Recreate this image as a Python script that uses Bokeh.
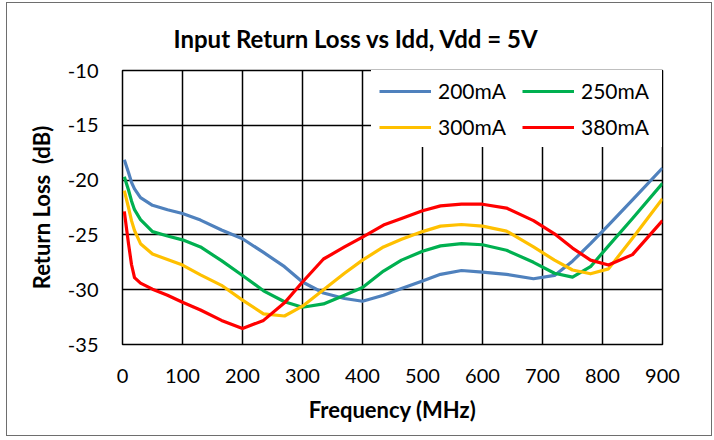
from bokeh.plotting import figure
from bokeh.models import Range1d, FixedTicker, Legend, LegendItem, Title
from bokeh.embed import file_html
from bokeh.resources import INLINE

freq = [3, 10, 15, 20, 30, 50, 75, 100, 130, 165, 200, 235, 270, 300, 335, 370, 400,
        435, 465, 500, 530, 565, 600, 640, 685, 720, 750, 780, 810, 850, 900]

rl_200mA = [-18.15, -19.3, -20.2, -20.8, -21.6, -22.3, -22.7, -23.05, -23.65, -24.55,
            -25.35, -26.6, -27.9, -29.3, -30.3, -30.8, -31.05, -30.5, -29.9, -29.2,
            -28.6, -28.25, -28.4, -28.6, -29.0, -28.7, -27.4, -25.8, -24.1, -21.8, -18.9]
rl_250mA = [-19.7, -20.9, -21.9, -22.7, -23.6, -24.7, -25.1, -25.45, -26.1, -27.35,
            -28.7, -30.1, -31.1, -31.6, -31.3, -30.5, -29.8, -28.3, -27.3, -26.5,
            -26.0, -25.8, -25.9, -26.4, -27.5, -28.5, -28.85, -27.9, -26.0, -23.5, -20.3]
rl_300mA = [-20.95, -22.5, -23.7, -24.6, -25.8, -26.75, -27.25, -27.75, -28.65, -29.6,
            -30.95, -32.2, -32.4, -31.5, -30.0, -28.5, -27.3, -26.1, -25.4, -24.7,
            -24.2, -24.05, -24.2, -24.65, -26.1, -27.3, -28.2, -28.55, -28.1, -25.3, -21.7]
rl_380mA = [-22.85, -25.8, -27.7, -28.9, -29.4, -29.95, -30.5, -31.15, -31.85, -32.8,
            -33.55, -32.8, -31.2, -29.3, -27.2, -26.1, -25.2, -24.1, -23.5, -22.8,
            -22.35, -22.2, -22.2, -22.55, -23.7, -24.9, -26.2, -27.3, -27.75, -26.8, -23.7]

series_names = ["200mA", "250mA", "300mA", "380mA"]
series_colors = ["#4F81BD", "#00B050", "#FFC000", "#FF0000"]
x_ticks = [0, 100, 200, 300, 400, 500, 600, 700, 800, 900]
y_ticks = [-35, -30, -25, -20, -15, -10]
y_tick_labels = ["-35", "-30", "-25", "-20", "-15", "-10"]

FONT = "Lato"
# the figure box sits at page (6, 2) with a 1px outer border, so its canvas starts at (7, 3)
W, H = 706, 434
LEFT, TOP, FW, FH = 115, 67, 540, 274

p = figure(width=W, height=H, output_backend="svg", toolbar_location=None,
           x_range=Range1d(0, 900), y_range=Range1d(-35, -10),
           min_border_left=LEFT, min_border_right=W - LEFT - FW,
           min_border_top=TOP, min_border_bottom=H - TOP - FH)
p.styles = {"border": "1px solid #6e6e6e", "margin-left": "6px", "margin-top": "2px"}

p.title = Title(text="Input Return Loss vs Idd, Vdd = 5V", align="left", offset=51,
                text_font=FONT, text_font_size="24px", text_font_style="bold",
                text_color="black", standoff=35)

p.outline_line_color = "black"
p.outline_line_width = 1.5
p.background_fill_color = "white"
p.border_fill_color = "white"

for ax in (p.xaxis[0], p.yaxis[0]):
    ax.axis_line_color = None
    ax.major_tick_line_color = None
    ax.minor_tick_line_color = None
    ax.major_tick_out = 0
    ax.major_tick_in = 0
    ax.major_label_text_font = FONT
    ax.major_label_text_font_size = "20px"
    ax.major_label_text_color = "black"
    ax.axis_label_text_font = FONT
    ax.axis_label_text_font_size = "22px"
    ax.axis_label_text_font_style = "bold"
    ax.axis_label_text_color = "black"

p.xaxis.ticker = FixedTicker(ticks=x_ticks)
p.yaxis.ticker = FixedTicker(ticks=y_ticks)
p.yaxis.major_label_overrides = {t: s for t, s in zip(y_ticks, y_tick_labels)}
p.xaxis.axis_label = "Frequency (MHz)"
p.yaxis.axis_label = "Return Loss\u00a0 (dB)"
p.xaxis.major_label_standoff = 24
p.yaxis.major_label_standoff = 24
p.xaxis.axis_label_standoff = 10
p.yaxis.axis_label_standoff = 10

p.xgrid.ticker = FixedTicker(ticks=x_ticks)
p.ygrid.ticker = FixedTicker(ticks=y_ticks)
for g in (p.xgrid[0], p.ygrid[0]):
    g.grid_line_color = "black"
    g.grid_line_width = 1.5

data = [rl_200mA, rl_250mA, rl_300mA, rl_380mA]
renderers = {}
for name, color, vals in zip(series_names, series_colors, data):
    renderers[name] = p.line(freq, vals, line_color=color, line_width=3.2,
                             line_join="round")

# column-major fill: 200mA/300mA in column 1, 250mA/380mA in column 2
legend_order = ["200mA", "300mA", "250mA", "380mA"]
items = [LegendItem(label=n, renderers=[renderers[n]]) for n in legend_order]

legend = Legend(items=items, ncols=2, location="top_right",
                label_text_font=FONT, label_text_font_size="21px",
                label_text_color="black", glyph_width=52, glyph_height=20,
                label_height=20, label_width=73, label_standoff=7,
                spacing=11, padding=8, margin=0,
                border_line_color="white", border_line_alpha=0.0,
                background_fill_color="white", background_fill_alpha=1.0)
p.add_layout(legend, "center")

open("out.html", "w").write(file_html(p, INLINE))
